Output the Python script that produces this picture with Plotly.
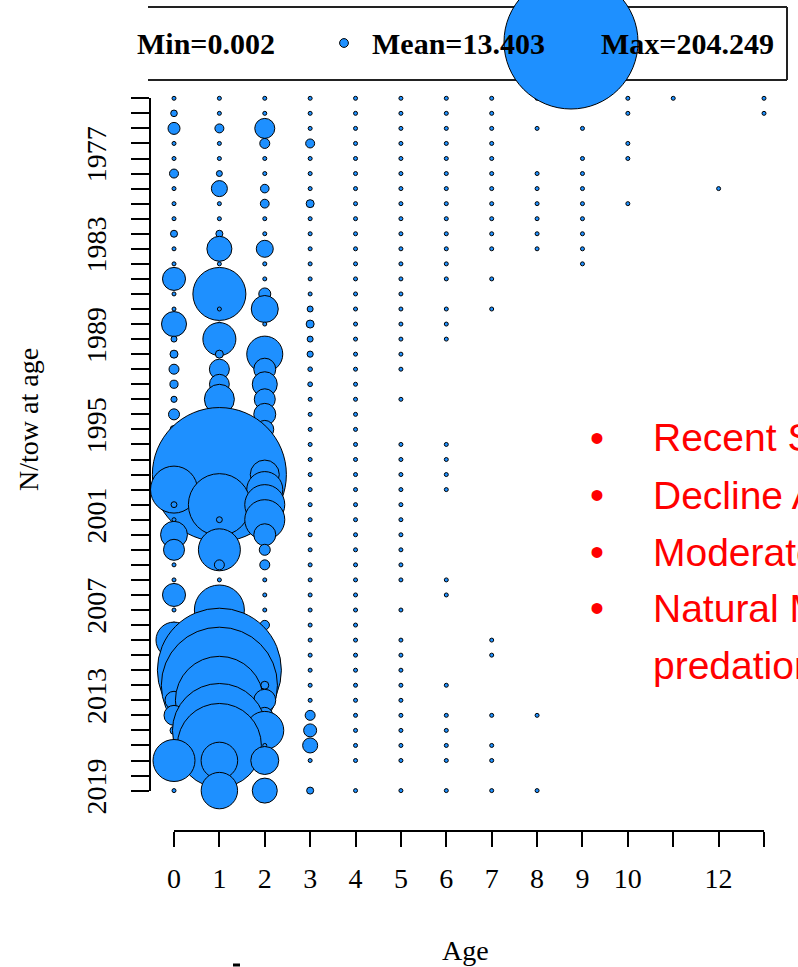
import plotly.graph_objects as go

# Survey index: numbers per tow at age, by year (None = no catch recorded)
years = [1973, 1974, 1975, 1976, 1977, 1978, 1979, 1980, 1981, 1982,
         1983, 1984, 1985, 1986, 1987, 1988, 1989, 1990, 1991, 1992,
         1993, 1994, 1995, 1996, 1997, 1998, 1999, 2000, 2001, 2002,
         2003, 2004, 2005, 2006, 2007, 2008, 2009, 2010, 2011, 2012,
         2013, 2014, 2015, 2016, 2017, 2019]

age0 = [0.2, 10.1, 18.3, 5.5, 0.3, 13.7, 0.4, 0.2, 0.5, 10.7,
        0.6, 5.8, 35.1, 5.2, 0.9, 38.1, 9.1, 12.2, 15.2, 12.4,
        9.4, 16.8, 12.0, 8.5, 10.0, 20.0, 71.6, 9.0, 0.5, 41.0,
        32.0, 0.4, 0.3, 35.1, 0.5, 9.0, 54.9, 12.2, 20.0, 25.0,
        27.4, 30.5, 12.2, 15.0, 64.0, 0.6]
age1 = [0.3, 6.0, 13.7, 5.7, 0.4, 9.1, 24.4, 0.5, 5.5, 10.7,
        38.1, 4.5, 30.0, 80.8, 0.7, 1.0, 50.3, 12.2, 30.5, 30.2,
        45.7, 18.0, 55.0, 60.0, 70.0, 204.249, 45.0, 94.5, 9.0, 15.0,
        64.0, 15.2, 0.6, 15.0, 76.2, 40.0, 70.0, 110.0, 189.0, 177.0,
        134.0, 91.0, 143.0, 128.0, 55.8, 55.5]
age2 = [6.0, 0.3, 30.5, 15.2, 0.4, 0.5, 13.1, 13.4, 0.6, 5.8,
        25.9, 6.2, 0.7, 18.3, 41.2, 0.8, 0.5, 54.9, 33.5, 38.1,
        32.0, 33.5, 27.4, 21.3, 36.6, 44.2, 54.9, 61.0, 61.0, 33.5,
        16.8, 15.2, 6.1, 0.5, 0.4, 14.3, 9.2, 0.6, 8.0, 12.2,
        33.5, 24.4, 57.9, 0.5, 42.7, 38.1]
age3 = [0.3, 0.2, 5.8, 13.7, 5.5, 0.3, 0.4, 12.2, 0.2, 0.3,
        0.5, 0.2, 0.3, 0.4, 9.1, 12.2, 9.1, 9.4, 7.0, 7.2,
        0.3, 0.4, 5.5, 5.6, 0.3, 0.2, 0.3, 0.4, 0.2, 0.3,
        5.4, 0.2, 0.3, 0.2, 0.3, 0.2, 0.4, 0.3, 0.2, 0.3,
        0.4, 15.2, 19.8, 22.9, 0.4, 10.7]
age4 = [0.2, 0.1, 0.3, 0.2, 0.1, 0.2, 0.3, 0.2, 0.1, 0.2,
        0.1, 0.2, 0.1, 0.2, 0.1, 0.1, 0.2, 0.1, 0.1, 0.2,
        0.1, 0.1, 0.1, 0.2, 0.1, 0.2, 0.1, 0.1, 0.1, 0.2,
        0.1, 0.1, 0.2, 0.1, 0.1, 0.1, 0.2, 0.1, 0.1, 0.2,
        0.1, 0.3, 5.5, 0.2, 0.1, 0.2]
age5 = [0.1, 0.1, 0.2, 0.1, 0.1, 0.1, 0.2, 0.1, 0.1, 0.1,
        0.1, 0.1, 0.1, 0.1, 0.1, 0.1, 0.1, 0.1, 0.1, None,
        0.1, None, None, 0.1, 0.1, 0.1, 0.1, 0.1, 0.1, 0.1,
        0.1, 0.1, 0.1, None, 0.1, None, 0.1, 0.1, 0.1, 0.1,
        0.1, 0.1, 0.1, 0.1, 0.1, 0.1]
age6 = [0.1, 0.1, 0.1, 0.1, 0.1, 0.1, 0.1, 0.1, 0.1, 0.1,
        0.1, 0.1, 0.1, None, 0.1, 0.1, 0.1, None, None, None,
        None, None, None, 0.1, 0.1, 0.1, 0.1, None, None, None,
        None, None, 0.1, 0.1, None, None, None, None, None, 0.1,
        None, 0.1, 0.1, 0.1, 0.1, 0.1]
age7 = [0.1, 0.1, 0.1, 0.1, 0.1, 0.1, 0.1, 0.1, 0.1, 0.1,
        0.1, None, 0.1, None, 0.1, None, None, None, None, None,
        None, None, None, None, None, None, None, None, None, None,
        None, None, None, None, None, None, 0.1, 0.1, None, None,
        None, 0.1, None, 0.1, 0.1, 0.1]
# Older ages are only caught in a few years
age8 = {1973: 0.1, 1975: 0.1, 1978: 0.1, 1979: 0.1, 1980: 0.1, 1981: 0.1,
        1982: 0.1, 1983: 0.1, 2014: 0.1, 2019: 0.1}
age9 = {1973: 0.1, 1975: 0.1, 1977: 0.1, 1978: 0.1, 1979: 0.1, 1980: 0.1,
        1981: 0.1, 1982: 0.1, 1983: 0.1, 1984: 0.1}
age10 = {1973: 0.1, 1974: 0.1, 1976: 0.1, 1977: 0.1, 1980: 0.1}
age11 = {1973: 0.1}
age12 = {1979: 0.1}
age13 = {1973: 0.1, 1974: 0.1}

year_ticks = list(range(1973, 2020))
year_labels = [str(y) if (y - 1977) % 6 == 0 else "" for y in year_ticks]
age_ticks = list(range(14))
age_labels = ["0", "1", "2", "3", "4", "5", "6", "7", "8", "9", "10", "", "12", ""]

key_labels = ["Min=0.002", "Mean=13.403", "Max=204.249"]
key_values = [13.403, 204.249]

bullets = ["Recent S", "Decline A", "Moderate", "Natural M"]
bullet_cont = "predation"

MAXVAL = 204.249
MAXDIAM = 134  # px diameter of the largest bubble

# Assemble points year by year so later years overprint earlier ones
columns = [age0, age1, age2, age3, age4, age5, age6, age7]
sparse = [age8, age9, age10, age11, age12, age13]
xs, ys, ss = [], [], []
for i, yr in enumerate(years):
    for a in range(14):
        if a < 8:
            v = columns[a][i]
        else:
            v = sparse[a - 8].get(yr)
        if v is None:
            continue
        xs.append(a)
        ys.append(yr)
        ss.append(v)

W, H = 798, 967
BLUE = "#1E90FF"
SERIF = "Liberation Serif, Times New Roman, serif"
SANS = "Liberation Sans, Arial, sans-serif"

x0, x1 = 174, 764        # pixel span of ages 0..13
y0, y1 = 98.3, 790.6     # pixel span of years 1973..2019

marker_common = dict(
    sizemode="diameter",
    sizeref=MAXVAL / MAXDIAM,
    sizemin=2,
    color=BLUE,
    opacity=1,
    line=dict(color="black", width=1),
)

fig = go.Figure()
fig.add_trace(go.Scatter(
    x=xs, y=ys, mode="markers", cliponaxis=False,
    marker=dict(size=ss, **marker_common), hoverinfo="skip",
))

# Key bubbles on a full-page pixel axis pair
fig.add_trace(go.Scatter(
    x=[344, 571], y=[43, 42], xaxis="x2", yaxis="y2", mode="markers",
    cliponaxis=False, marker=dict(size=key_values, **marker_common),
    hoverinfo="skip",
))

fig.update_layout(
    width=W, height=H, autosize=False,
    margin=dict(l=0, r=0, t=0, b=0),
    paper_bgcolor="white", plot_bgcolor="rgba(0,0,0,0)",
    showlegend=False,
    xaxis=dict(
        domain=[x0 / W, x1 / W], range=[0, 13], anchor="free",
        position=1 - 831 / H,
        tickmode="array", tickvals=age_ticks, ticktext=age_labels,
        ticks="outside", ticklen=15, tickwidth=1.5, tickcolor="black",
        ticklabelstandoff=8,
        showline=True, linecolor="black", linewidth=1.5,
        showgrid=False, zeroline=False, automargin=False,
        tickfont=dict(family=SERIF, size=28, color="black"),
    ),
    yaxis=dict(
        domain=[1 - y1 / H, 1 - y0 / H], range=[2019, 1973], anchor="free",
        position=150 / W,
        tickmode="array", tickvals=year_ticks, ticktext=year_labels,
        tickangle=-90, ticklabelstandoff=14,
        ticks="outside", ticklen=18, tickwidth=1.5, tickcolor="black",
        showline=True, linecolor="black", linewidth=1.5,
        showgrid=False, zeroline=False, automargin=False,
        tickfont=dict(family=SERIF, size=28, color="black"),
    ),
    xaxis2=dict(domain=[0, 1], anchor="y2", range=[0, W], visible=False),
    yaxis2=dict(domain=[0, 1], anchor="x2", range=[H, 0], visible=False),
)

def px(x, y):
    return x / W, 1 - y / H

shapes = []
# key box (its left end is trimmed)
for (xa, ya, xb, yb) in [(148, 7, 787, 7), (148, 80, 787, 80), (787, 7, 787, 80)]:
    ax, ay = px(xa, ya)
    bx, by = px(xb, yb)
    shapes.append(dict(type="line", xref="paper", yref="paper", x0=ax, y0=ay,
                       x1=bx, y1=by, line=dict(color="#222", width=2), layer="below"))
ax, ay = px(233, 965)
bx, by = px(240, 965)
shapes.append(dict(type="line", xref="paper", yref="paper", x0=ax, y0=ay,
                   x1=bx, y1=by, line=dict(color="black", width=3)))
fig.update_layout(shapes=shapes)

ann = []
def label(text, x, y, size, family, color="black", xanchor="center",
          yanchor="middle", angle=0, bold=False):
    ax, ay = px(x, y)
    t = f"<b>{text}</b>" if bold else text
    ann.append(dict(text=t, x=ax, y=ay, xref="paper", yref="paper",
                    xanchor=xanchor, yanchor=yanchor, showarrow=False,
                    textangle=angle, font=dict(size=size, family=family, color=color)))

label(key_labels[0], 277, 44, 30, SERIF, xanchor="right", bold=True)
label(key_labels[1], 370, 44, 30, SERIF, xanchor="left", bold=True)
label(key_labels[2], 599, 44, 30, SERIF, xanchor="left", bold=True)

label("N/tow at age", 28, 420, 28, SERIF, angle=-90)
label("Age", 465, 950, 28, SERIF)

line_y = [438, 495, 552, 608]
for txt, yy in zip(bullets, line_y):
    label("\u2022", 597, yy, 40, SANS, color="red")
    label(txt, 651, yy, 39, SANS, color="red", xanchor="left")
label(bullet_cont, 651, 665, 39, SANS, color="red", xanchor="left")

fig.update_layout(annotations=ann)

fig.write_html("out.html")
